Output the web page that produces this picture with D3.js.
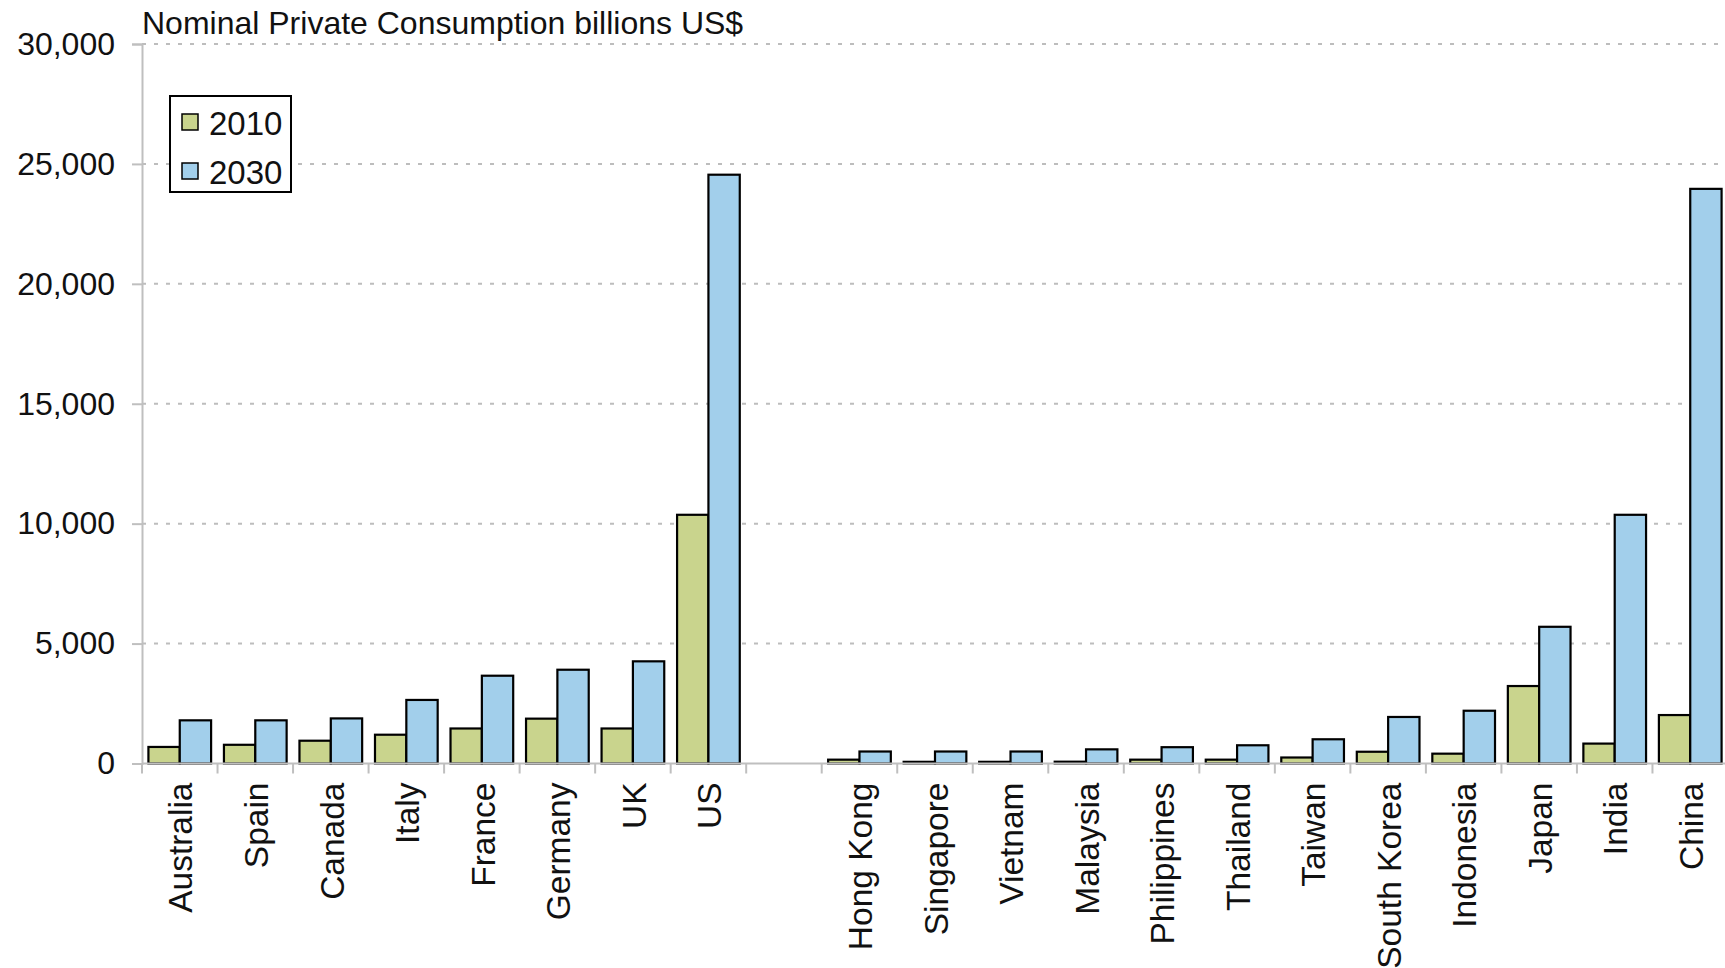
<!DOCTYPE html>
<html>
<head>
<meta charset="utf-8">
<script src="https://cdn.jsdelivr.net/npm/d3@7"></script>
<style>
  html, body { margin: 0; padding: 0; background: #fff; }
  svg { display: block; font-family: "Liberation Sans", Arial, Helvetica, sans-serif; }
</style>
</head>
<body>
<svg id="chart" width="1725" height="968"></svg>
<script>
// Two groups of economies, separated by an empty slot on the category axis
const westCountries = ["Australia", "Spain", "Canada", "Italy", "France", "Germany", "UK", "US"];
const asiaCountries = ["Hong Kong", "Singapore", "Vietnam", "Malaysia", "Philippines", "Thailand",
                       "Taiwan", "South Korea", "Indonesia", "Japan", "India", "China"];

// Nominal private consumption, billions US$
const west2010 = [690, 780, 950, 1200, 1460, 1870, 1460, 10370];
const west2030 = [1800, 1800, 1880, 2650, 3660, 3910, 4260, 24550];
const asia2010 = [160, 70, 70, 75, 160, 160, 250, 490, 410, 3230, 830, 2020];
const asia2030 = [500, 500, 500, 590, 680, 760, 1010, 1940, 2200, 5700, 10370, 23960];

const seriesNames = ["2010", "2030"];
const seriesColors = ["#c9d48d", "#a2cfeb"];
const yTicks = [0, 5000, 10000, 15000, 20000, 25000, 30000];
const titleText = "Nominal Private Consumption billions US$";

const GAP = "\u00a0gap";
const categories = [...westCountries, GAP, ...asiaCountries];
const rows = [
  ...westCountries.map((c, i) => ({ country: c, values: [west2010[i], west2030[i]] })),
  ...asiaCountries.map((c, i) => ({ country: c, values: [asia2010[i], asia2030[i]] }))
];

const svg = d3.select("#chart");
const plotLeft = 142, plotRight = 1728, plotTop = 44, plotBottom = 763.5;

const x = d3.scaleBand().domain(categories).range([plotLeft, plotRight]).paddingInner(0).paddingOuter(0);
const bw = x.bandwidth();
const inset = bw * 0.085;
const x1 = d3.scaleBand().domain(seriesNames).range([inset, bw - inset]).paddingInner(0);
const y = d3.scaleLinear().domain([0, 30000]).range([plotBottom, plotTop]);

// dashed horizontal gridlines
svg.append("g")
  .selectAll("line")
  .data(yTicks.filter(d => d > 0))
  .join("line")
  .attr("x1", plotLeft).attr("x2", 1718)
  .attr("y1", d => y(d)).attr("y2", d => y(d))
  .attr("stroke", "#bdbdbd")
  .attr("stroke-width", 2)
  .attr("stroke-dasharray", "4 8");

// y axis
const yAxis = svg.append("g")
  .attr("transform", `translate(${plotLeft},0)`)
  .call(d3.axisLeft(y).tickValues(yTicks).tickSize(10).tickPadding(17)
    .tickFormat(d3.format(",")));
yAxis.select(".domain").attr("stroke", "#bfbfbf").attr("stroke-width", 2);
yAxis.selectAll(".tick line").attr("stroke", "#bfbfbf").attr("stroke-width", 2);
yAxis.selectAll(".tick text")
  .attr("fill", "#111")
  .style("font-size", "32px")
  .style("font-family", "'Liberation Sans', Arial, sans-serif");

// bars
const groups = svg.append("g")
  .selectAll("g")
  .data(rows)
  .join("g")
  .attr("transform", d => `translate(${x(d.country)},0)`);

groups.selectAll("rect")
  .data(d => d.values.map((v, i) => ({ key: seriesNames[i], value: v, color: seriesColors[i] })))
  .join("rect")
  .attr("x", d => x1(d.key))
  .attr("width", x1.bandwidth())
  .attr("y", d => y(d.value))
  .attr("height", d => y(0) - y(d.value))
  .attr("fill", d => d.color)
  .attr("stroke", "#000")
  .attr("stroke-width", 2.2);

// x baseline and category separators
const xAxisG = svg.append("g");
xAxisG.append("line")
  .attr("x1", plotLeft).attr("x2", plotRight)
  .attr("y1", plotBottom).attr("y2", plotBottom)
  .attr("stroke", "#bfbfbf").attr("stroke-width", 2);
const bounds = categories.map(c => x(c)).concat([plotRight]);
xAxisG.selectAll("line.sep")
  .data(bounds)
  .join("line")
  .attr("class", "sep")
  .attr("x1", d => d).attr("x2", d => d)
  .attr("y1", plotBottom).attr("y2", plotBottom + 10)
  .attr("stroke", "#bfbfbf").attr("stroke-width", 2);

// rotated category labels
xAxisG.selectAll("text")
  .data(categories.filter(c => c !== GAP))
  .join("text")
  .attr("transform", d => `translate(${x(d) + bw / 2 + 1},${plotBottom + 19}) rotate(-90)`)
  .attr("text-anchor", "end")
  .attr("dy", "0.35em")
  .attr("fill", "#111")
  .style("font-size", "33.5px")
  .text(d => d);

// title
svg.append("text")
  .attr("x", 142).attr("y", 34)
  .attr("fill", "#111")
  .style("font-size", "32px")
  .text(titleText);

// legend
const legend = svg.append("g").attr("transform", "translate(170,96)");
legend.append("rect")
  .attr("width", 121).attr("height", 96)
  .attr("fill", "#fff").attr("stroke", "#000").attr("stroke-width", 2);
const items = legend.selectAll("g.item")
  .data(seriesNames)
  .join("g")
  .attr("class", "item")
  .attr("transform", (d, i) => `translate(12,${18 + i * 49})`);
items.append("rect")
  .attr("width", 16).attr("height", 16)
  .attr("fill", (d, i) => seriesColors[i])
  .attr("stroke", "#000").attr("stroke-width", 1.5);
items.append("text")
  .attr("x", 27).attr("y", 9)
  .attr("dy", "0.35em")
  .attr("fill", "#111")
  .style("font-size", "33px")
  .text(d => d);
</script>
</body>
</html>
